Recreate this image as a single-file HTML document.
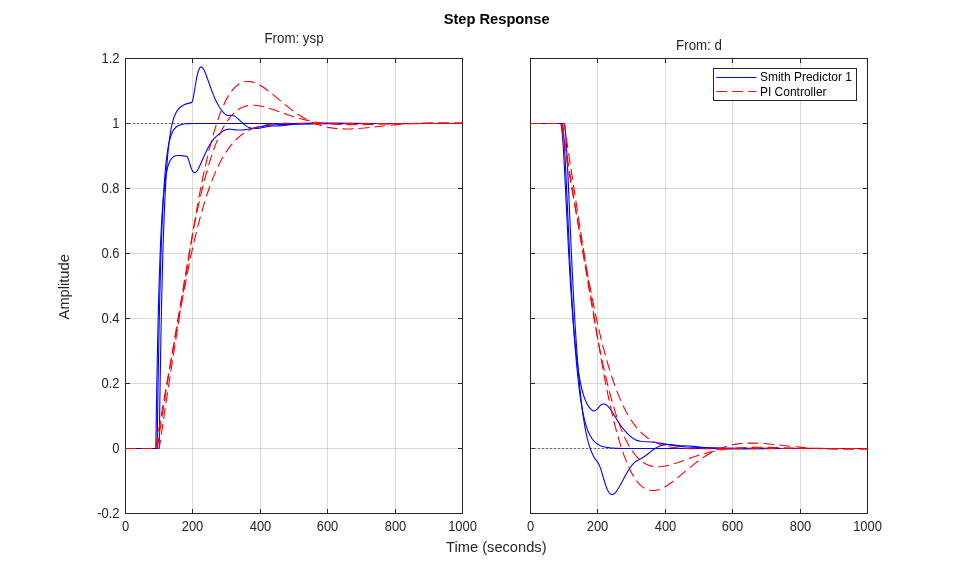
<!DOCTYPE html>
<html><head><meta charset="utf-8"><title>Step Response</title>
<style>
html,body{margin:0;padding:0;background:#fff;}
body{width:959px;height:577px;overflow:hidden;}
svg{display:block;will-change:transform;font-family:"Liberation Sans",sans-serif;}
text{fill:#262626;}
.t{font-size:13.33px;}
.l{font-size:14.67px;}
.lg{font-size:12px;fill:#000;}
.c path{fill:none;stroke-width:1.1;stroke-linejoin:round;}
</style></head><body>
<svg width="959" height="577" viewBox="0 0 959 577">
<rect width="959" height="577" fill="#fff"/>
<defs>
<clipPath id="cl"><rect x="125.0" y="58.0" width="338.0" height="456.0"/></clipPath>
<clipPath id="cr"><rect x="530.0" y="58.0" width="338.0" height="456.0"/></clipPath>
</defs>
<path d="M192.5 59.0V513.0M260.5 59.0V513.0M327.5 59.0V513.0M395.5 59.0V513.0" stroke="#262626" stroke-opacity="0.17" fill="none" shape-rendering="crispEdges"/>
<path d="M126.0 123.5H462.0M126.0 188.5H462.0M126.0 253.5H462.0M126.0 318.5H462.0M126.0 383.5H462.0M126.0 448.5H462.0" stroke="#262626" stroke-opacity="0.17" fill="none" shape-rendering="crispEdges"/>
<path d="M597.5 59.0V513.0M665.5 59.0V513.0M732.5 59.0V513.0M800.5 59.0V513.0" stroke="#262626" stroke-opacity="0.17" fill="none" shape-rendering="crispEdges"/>
<path d="M531.0 123.5H867.0M531.0 188.5H867.0M531.0 253.5H867.0M531.0 318.5H867.0M531.0 383.5H867.0M531.0 448.5H867.0" stroke="#262626" stroke-opacity="0.17" fill="none" shape-rendering="crispEdges"/>
<path d="M125.5 513.5v-4.5M125.5 58.5v4.5M192.5 513.5v-4.5M192.5 58.5v4.5M260.5 513.5v-4.5M260.5 58.5v4.5M327.5 513.5v-4.5M327.5 58.5v4.5M395.5 513.5v-4.5M395.5 58.5v4.5M462.5 513.5v-4.5M462.5 58.5v4.5M125.5 58.5h4.5M462.5 58.5h-4.5M125.5 123.5h4.5M462.5 123.5h-4.5M125.5 188.5h4.5M462.5 188.5h-4.5M125.5 253.5h4.5M462.5 253.5h-4.5M125.5 318.5h4.5M462.5 318.5h-4.5M125.5 383.5h4.5M462.5 383.5h-4.5M125.5 448.5h4.5M462.5 448.5h-4.5M125.5 513.5h4.5M462.5 513.5h-4.5" stroke="#262626" fill="none" shape-rendering="crispEdges"/>
<rect x="125.5" y="58.5" width="337.0" height="455.0" stroke="#262626" fill="none" shape-rendering="crispEdges"/>
<path d="M530.5 513.5v-4.5M530.5 58.5v4.5M597.5 513.5v-4.5M597.5 58.5v4.5M665.5 513.5v-4.5M665.5 58.5v4.5M732.5 513.5v-4.5M732.5 58.5v4.5M800.5 513.5v-4.5M800.5 58.5v4.5M867.5 513.5v-4.5M867.5 58.5v4.5M530.5 58.5h4.5M867.5 58.5h-4.5M530.5 123.5h4.5M867.5 123.5h-4.5M530.5 188.5h4.5M867.5 188.5h-4.5M530.5 253.5h4.5M867.5 253.5h-4.5M530.5 318.5h4.5M867.5 318.5h-4.5M530.5 383.5h4.5M867.5 383.5h-4.5M530.5 448.5h4.5M867.5 448.5h-4.5M530.5 513.5h4.5M867.5 513.5h-4.5" stroke="#262626" fill="none" shape-rendering="crispEdges"/>
<rect x="530.5" y="58.5" width="337.0" height="455.0" stroke="#262626" fill="none" shape-rendering="crispEdges"/>
<path d="M126.0 123.49999999999999H462.0" stroke="#6a6a6a" stroke-dasharray="2 2" stroke-dashoffset="1" fill="none" shape-rendering="crispEdges"/>
<path d="M531.0 448.5H867.0" stroke="#6a6a6a" stroke-dasharray="2 2" stroke-dashoffset="1" fill="none" shape-rendering="crispEdges"/>
<g class="c" clip-path="url(#cl)">
<path d="M125.50 448.50 L157.14 448.50 L157.78 402.63 L158.44 362.28 L159.15 325.32 L159.89 292.72 L160.68 263.69 L161.53 238.25 L162.44 215.94 L163.41 196.77 L164.44 180.89 L165.55 167.55 L166.14 161.79 L166.77 156.51 L167.42 151.74 L168.11 147.46 L168.84 143.66 L169.61 140.27 L170.44 137.27 L171.32 134.68 L172.26 132.43 L173.27 130.52 L174.37 128.90 L175.58 127.54 L176.84 126.49 L178.26 125.63 L179.84 124.96 L181.66 124.44 L183.72 124.07 L186.18 123.81 L189.21 123.65 L193.19 123.55 L208.15 123.50 L462.50 123.50" stroke="#0000ff"/>
<path d="M125.50 448.50 L155.83 448.50 L156.42 408.41 L157.04 371.82 L157.70 338.81 L158.39 309.34 L159.13 282.79 L159.91 259.73 L160.73 239.56 L161.63 221.91 L162.55 207.30 L163.56 194.80 L164.66 184.42 L165.25 179.92 L165.86 175.97 L166.50 172.41 L167.17 169.27 L167.89 166.47 L168.65 164.08 L169.46 162.02 L170.32 160.30 L171.26 158.85 L172.28 157.70 L173.34 156.84 L174.52 156.20 L175.83 155.77 L177.31 155.54 L179.08 155.49 L181.26 155.62 L186.28 156.22 L186.87 156.41 L187.17 156.67 L187.46 157.06 L188.05 158.35 L188.65 160.13 L190.74 166.92 L191.47 168.86 L192.18 170.38 L192.95 171.59 L193.34 172.02 L193.74 172.34 L194.15 172.53 L194.55 172.60 L194.97 172.56 L195.39 172.40 L196.10 171.89 L196.84 171.08 L197.63 169.94 L198.48 168.49 L200.15 165.08 L204.68 154.72 L207.09 149.64 L208.44 147.07 L209.78 144.73 L211.11 142.64 L212.48 140.72 L214.35 138.44 L216.29 136.45 L217.91 135.04 L221.90 131.91 L223.52 130.81 L224.97 130.04 L226.41 129.51 L227.91 129.22 L229.23 129.14 L230.71 129.20 L235.97 129.83 L238.29 130.02 L240.53 130.04 L242.83 129.91 L245 129.66 L247.46 129.26 L262.25 126.36 L267.01 125.55 L269.77 125.20 L272.60 124.94 L275.65 124.76 L279.26 124.64 L296.95 124.32 L316.21 123.85 L329.81 123.69 L375.84 123.54 L462.50 123.50" stroke="#0000ff"/>
<path d="M125.50 448.50 L159.20 448.50 L160.06 386.86 L160.97 333.78 L161.96 287.33 L163.02 248.26 L164.19 215.17 L164.81 200.76 L165.47 187.64 L166.16 175.83 L166.90 165.06 L167.68 155.57 L168.50 147.13 L169.12 141.72 L169.76 136.89 L170.46 132.39 L171.18 128.34 L171.96 124.66 L172.76 121.43 L173.64 118.49 L174.57 115.91 L175.85 113.07 L176.54 111.81 L177.26 110.66 L178.04 109.59 L178.85 108.63 L179.71 107.75 L180.62 106.95 L182.32 105.76 L184.26 104.73 L185.71 104.13 L187.31 103.60 L188.94 103.15 L191.25 102.62 L191.72 102.29 L192.12 101.71 L192.45 100.97 L192.77 99.97 L193.39 97.21 L196.03 81.27 L196.71 77.66 L197.35 74.68 L198.04 72.01 L198.73 69.93 L199.44 68.40 L199.79 67.85 L200.15 67.44 L200.58 67.12 L201.04 66.98 L201.49 67.04 L201.97 67.28 L202.45 67.70 L202.96 68.32 L203.50 69.15 L204.05 70.16 L204.98 72.15 L206.04 74.77 L211.82 90.86 L213.49 95.13 L215.11 98.91 L216.98 102.79 L218.88 106.22 L220.84 109.23 L222.88 111.87 L224.06 113.19 L225.07 114.16 L225.94 114.82 L226.79 115.25 L227.48 115.44 L228.22 115.52 L230.98 115.37 L232.23 115.44 L233.54 115.76 L234.86 116.37 L236 117.12 L237.25 118.11 L242.64 123.19 L244.04 124.39 L245.35 125.39 L246.89 126.37 L248.40 127.16 L249.95 127.76 L251.57 128.20 L253 128.44 L254.52 128.56 L256.15 128.57 L257.89 128.47 L260.62 128.07 L266.37 126.68 L267.88 126.39 L269.38 126.19 L271.93 126.01 L278.45 125.91 L282.12 125.71 L285.93 125.31 L298.28 123.74 L301.84 123.44 L305.42 123.29 L331.22 123.15 L352.30 123.42 L378.32 123.53 L462.50 123.50" stroke="#0000ff"/>
<path d="M125.50 448.50 L157.14 448.50 L162.62 412.64 L168.94 373.10 L176.39 328.08 L185.50 274.32 L189.85 249.07 L192.85 232.71 L196.25 215.59 L199.72 199.65 L201.75 191.03 L203.77 182.89 L205.82 175.10 L207.88 167.78 L209.95 160.87 L212.02 154.44 L214.11 148.42 L216.20 142.87 L218.26 137.86 L220.33 133.26 L222.42 129.07 L224.56 125.22 L226.75 121.72 L228.99 118.57 L231.28 115.77 L233.63 113.32 L235.93 111.27 L238.31 109.53 L240.75 108.08 L243.26 106.94 L245.86 106.09 L248.56 105.53 L251.37 105.25 L254.34 105.25 L257.15 105.48 L260.13 105.93 L263.33 106.62 L266.84 107.56 L273.17 109.57 L286.23 114.20 L292.18 116.21 L298.40 118.11 L304.33 119.70 L310.36 121.07 L316.44 122.19 L322.70 123.08 L329.20 123.77 L334.98 124.19 L341.13 124.48 L347.79 124.64 L355.18 124.68 L366.84 124.55 L397.32 123.89 L415.02 123.62 L435.86 123.46 L462.50 123.43" stroke="#ff0000" stroke-dasharray="10.9 5.1" stroke-dashoffset="0.4"/>
<path d="M125.50 448.50 L155.83 448.50 L158.27 433.25 L160.87 417.58 L166.68 383.95 L173.49 346.37 L181.78 302.11 L187.09 274.34 L190.41 258.09 L192.36 249.13 L194.35 240.45 L196.37 232.07 L198.41 224.03 L200.58 215.92 L202.79 208.15 L205.02 200.77 L207.26 193.79 L209.51 187.22 L211.77 181.08 L214.05 175.35 L216.32 170.06 L218.61 165.17 L220.97 160.56 L223.38 156.27 L225.86 152.28 L228.40 148.57 L231 145.19 L233.66 142.09 L236.41 139.27 L238.36 137.47 L240.35 135.80 L242.39 134.26 L244.48 132.84 L246.63 131.53 L248.86 130.33 L251.15 129.24 L253.53 128.25 L255.97 127.37 L258.51 126.58 L261.16 125.89 L263.94 125.29 L266.84 124.77 L269.90 124.33 L273.16 123.97 L276.63 123.69 L280.42 123.47 L284.55 123.32 L294.39 123.19 L330.14 123.50 L348.68 123.59 L462.50 123.50" stroke="#ff0000" stroke-dasharray="10.9 5.1" stroke-dashoffset="0.4"/>
<path d="M125.50 448.50 L159.20 448.50 L165.49 406.07 L172.87 358 L181.73 301.75 L192.92 231.96 L195.43 216.87 L197.97 202.51 L200.55 188.89 L203.14 176.09 L205.08 167.11 L207.04 158.55 L208.99 150.48 L210.96 142.83 L212.93 135.67 L214.92 128.93 L216.91 122.68 L218.90 116.90 L220.87 111.65 L222.86 106.83 L224.83 102.51 L226.82 98.62 L228.82 95.17 L230.88 92.10 L232.97 89.43 L235.11 87.14 L236.29 86.07 L237.47 85.12 L238.68 84.26 L239.89 83.53 L241.12 82.91 L242.39 82.39 L243.65 82 L244.95 81.70 L246.26 81.52 L247.60 81.45 L248.94 81.49 L250.32 81.64 L251.72 81.90 L253.16 82.27 L254.62 82.75 L256.14 83.34 L258.50 84.45 L260.99 85.84 L263.64 87.51 L266.48 89.51 L269.16 91.52 L272.16 93.90 L284.82 104.40 L290.75 109.11 L294 111.55 L297.10 113.74 L300.12 115.74 L303.08 117.57 L306.54 119.53 L309.96 121.27 L313.38 122.82 L316.81 124.18 L320.29 125.35 L323.81 126.36 L327.40 127.19 L331.09 127.86 L335.79 128.47 L340.73 128.83 L345.95 128.96 L351.58 128.85 L357.49 128.53 L364.26 127.98 L387.38 125.56 L396.70 124.67 L404.70 124.04 L412.57 123.55 L423.19 123.10 L434.50 122.85 L447.01 122.79 L462.50 122.92" stroke="#ff0000" stroke-dasharray="10.9 5.1" stroke-dashoffset="0.4"/>
</g>
<g class="c" clip-path="url(#cr)">
<path d="M530.50 123.50 L562.16 123.50 L562.28 123.59 L562.40 123.83 L562.63 124.74 L563.14 128.41 L563.68 134.48 L564.27 143.12 L564.91 154.29 L566.09 177.97 L569.88 259.67 L571.18 284.96 L572.42 307.05 L573.65 326.57 L574.88 343.87 L576.15 359.44 L577.44 373.29 L579.08 387.97 L579.92 394.47 L580.80 400.53 L581.71 406.16 L582.63 411.24 L583.59 415.90 L584.61 420.19 L585.65 424.06 L586.75 427.57 L587.89 430.72 L589.10 433.55 L590.38 436.06 L591.73 438.25 L593.18 440.19 L594.73 441.87 L595.68 442.72 L596.67 443.50 L597.70 444.20 L598.79 444.83 L599.96 445.41 L601.17 445.91 L603.83 446.75 L606.83 447.38 L610.34 447.83 L614.53 448.14 L619.82 448.34 L628.57 448.46 L643.82 448.50 L867.50 448.50" stroke="#0000ff"/>
<path d="M530.50 123.50 L560.85 123.50 L560.96 123.58 L561.08 123.81 L561.32 124.67 L561.81 127.98 L562.35 133.64 L562.92 141.47 L563.56 151.87 L564.71 173.32 L568.38 247.10 L569.61 269.53 L570.79 289.14 L571.92 306.05 L573.06 321.37 L574.23 335.07 L575.42 347.38 L576.94 360.61 L577.71 366.44 L578.52 371.93 L579.35 376.96 L580.21 381.62 L581.10 385.91 L582.01 389.76 L582.95 393.25 L583.95 396.44 L584.98 399.27 L586.07 401.85 L587.22 404.12 L588.43 406.11 L589.71 407.83 L591.08 409.31 L592.15 410.25 L593 410.77 L593.79 410.98 L594.58 410.88 L595.34 410.53 L596.16 409.90 L597.06 409.02 L599.92 405.91 L600.90 405.06 L601.81 404.47 L602.87 404.06 L603.93 403.96 L605.01 404.19 L606.11 404.74 L607 405.40 L607.94 406.30 L608.92 407.40 L609.98 408.76 L612.12 411.91 L617.63 420.82 L620.46 425.09 L622.01 427.23 L623.53 429.17 L625.15 431.08 L626.90 432.99 L628.80 434.91 L630.56 436.49 L632.21 437.79 L633.82 438.86 L635.44 439.71 L637.11 440.38 L638.88 440.88 L640.82 441.23 L643.53 441.50 L650.99 441.94 L655.44 442.42 L661.64 443.39 L674.05 445.61 L679.76 446.42 L685.82 446.96 L693.36 447.30 L724.92 448.08 L742.14 448.30 L786.45 448.46 L867.50 448.50" stroke="#0000ff"/>
<path d="M530.50 123.50 L564.22 123.50 L564.42 123.75 L564.64 124.53 L564.89 126.01 L565.14 128.06 L565.68 134.11 L566.27 142.83 L566.93 154.52 L568.13 179.24 L570.92 242.39 L572.34 272.85 L573.86 302.68 L575.32 328.32 L576.85 351.69 L578.44 372.31 L580.07 390.17 L580.92 398.17 L581.79 405.69 L582.65 412.34 L583.53 418.45 L584.44 424.14 L585.36 429.32 L586.32 434.09 L587.34 438.52 L588.40 442.61 L589.49 446.29 L590.38 448.93 L591.31 451.37 L592.27 453.61 L593.27 455.66 L594.21 457.37 L595.20 458.97 L598.22 463.12 L598.86 464.25 L599.48 465.58 L600.28 467.59 L601.14 470.13 L604.64 481.98 L606.29 486.92 L607.22 489.22 L608.11 491.06 L609 492.51 L609.90 493.56 L610.60 494.12 L611.31 494.46 L612.04 494.57 L612.78 494.46 L613.55 494.12 L614.35 493.57 L615.17 492.79 L616.05 491.78 L617.45 489.81 L619.05 487.20 L625.50 475.34 L627.13 472.48 L628.67 469.96 L630.30 467.47 L631.75 465.47 L633.08 463.88 L634.40 462.57 L635.59 461.59 L636.91 460.71 L641.90 458.02 L644.44 456.44 L646.82 454.72 L652.63 450.19 L654.33 448.99 L655.93 447.97 L657.97 446.86 L659.98 445.99 L662.01 445.32 L664.12 444.85 L665.55 444.65 L667.02 444.54 L668.52 444.52 L670.12 444.58 L679.32 445.52 L688.87 446.04 L693.12 446.36 L706.04 447.79 L710.02 448.16 L714.87 448.46 L720.80 448.62 L741.31 448.83 L764.88 448.59 L788.54 448.48 L867.50 448.50" stroke="#0000ff"/>
<path d="M530.50 123.50 L562.14 123.50 L567.62 159.36 L573.94 198.90 L581.39 243.92 L590.50 297.68 L594.85 322.93 L597.85 339.29 L601.25 356.41 L604.72 372.35 L606.75 380.97 L608.77 389.11 L610.82 396.90 L612.88 404.22 L614.95 411.13 L617.02 417.56 L619.11 423.58 L621.20 429.13 L623.26 434.14 L625.33 438.74 L627.42 442.93 L629.56 446.78 L631.75 450.28 L633.99 453.43 L636.28 456.23 L638.63 458.68 L640.93 460.73 L643.31 462.47 L645.75 463.92 L648.26 465.06 L650.86 465.91 L653.56 466.47 L656.37 466.75 L659.34 466.75 L662.15 466.52 L665.13 466.07 L668.33 465.38 L671.84 464.44 L678.17 462.43 L691.23 457.80 L697.18 455.79 L703.40 453.89 L709.33 452.30 L715.36 450.93 L721.44 449.81 L727.70 448.92 L734.20 448.23 L739.98 447.81 L746.13 447.52 L752.79 447.36 L760.18 447.32 L771.84 447.45 L802.32 448.11 L820.02 448.38 L840.86 448.54 L867.50 448.57" stroke="#ff0000" stroke-dasharray="10.9 5.1" stroke-dashoffset="0.4"/>
<path d="M530.50 123.50 L560.83 123.50 L563.27 138.75 L565.87 154.42 L571.68 188.05 L578.49 225.63 L586.78 269.89 L592.09 297.66 L595.41 313.91 L597.36 322.87 L599.35 331.55 L601.37 339.93 L603.41 347.97 L605.58 356.08 L607.79 363.85 L610.02 371.23 L612.26 378.21 L614.51 384.78 L616.77 390.92 L619.05 396.65 L621.32 401.94 L623.61 406.83 L625.97 411.44 L628.38 415.73 L630.86 419.72 L633.40 423.43 L636 426.81 L638.66 429.91 L641.41 432.73 L643.36 434.53 L645.35 436.20 L647.39 437.74 L649.48 439.16 L651.63 440.47 L653.86 441.67 L656.15 442.76 L658.53 443.75 L660.97 444.63 L663.51 445.42 L666.16 446.11 L668.94 446.71 L671.84 447.23 L674.90 447.67 L678.16 448.03 L681.63 448.31 L685.42 448.53 L689.55 448.68 L699.39 448.81 L735.14 448.50 L753.68 448.41 L867.50 448.50" stroke="#ff0000" stroke-dasharray="10.9 5.1" stroke-dashoffset="0.4"/>
<path d="M530.50 123.50 L564.20 123.50 L570.49 165.93 L577.87 214 L586.73 270.25 L597.92 340.04 L600.43 355.13 L602.97 369.49 L605.55 383.11 L608.14 395.91 L610.08 404.89 L612.04 413.45 L613.99 421.52 L615.96 429.17 L617.93 436.33 L619.92 443.07 L621.91 449.32 L623.90 455.10 L625.87 460.35 L627.86 465.17 L629.83 469.49 L631.82 473.38 L633.82 476.83 L635.88 479.90 L637.97 482.57 L640.11 484.86 L641.29 485.93 L642.47 486.88 L643.68 487.74 L644.89 488.47 L646.12 489.09 L647.39 489.61 L648.65 490 L649.95 490.30 L651.26 490.48 L652.60 490.55 L653.94 490.51 L655.32 490.36 L656.72 490.10 L658.16 489.73 L659.62 489.25 L661.14 488.66 L663.50 487.55 L665.99 486.16 L668.64 484.49 L671.48 482.49 L674.16 480.48 L677.16 478.10 L689.82 467.60 L695.75 462.89 L699 460.45 L702.10 458.26 L705.12 456.26 L708.08 454.43 L711.54 452.47 L714.96 450.73 L718.38 449.18 L721.81 447.82 L725.29 446.65 L728.81 445.64 L732.40 444.81 L736.09 444.14 L740.79 443.53 L745.73 443.17 L750.95 443.04 L756.58 443.15 L762.49 443.47 L769.26 444.02 L792.38 446.44 L801.70 447.33 L809.70 447.96 L817.57 448.45 L828.19 448.90 L839.50 449.15 L852.01 449.21 L867.50 449.08" stroke="#ff0000" stroke-dasharray="10.9 5.1" stroke-dashoffset="0.4"/>
</g>
<text class="t" transform="translate(125.5 530.9) scale(0.97 1.08)" text-anchor="middle">0</text>
<text class="t" transform="translate(192.5 530.9) scale(0.97 1.08)" text-anchor="middle">200</text>
<text class="t" transform="translate(260.5 530.9) scale(0.97 1.08)" text-anchor="middle">400</text>
<text class="t" transform="translate(327.5 530.9) scale(0.97 1.08)" text-anchor="middle">600</text>
<text class="t" transform="translate(395.5 530.9) scale(0.97 1.08)" text-anchor="middle">800</text>
<text class="t" transform="translate(462.5 530.9) scale(0.97 1.08)" text-anchor="middle">1000</text>
<text class="t" transform="translate(530.5 530.9) scale(0.97 1.08)" text-anchor="middle">0</text>
<text class="t" transform="translate(597.5 530.9) scale(0.97 1.08)" text-anchor="middle">200</text>
<text class="t" transform="translate(665.5 530.9) scale(0.97 1.08)" text-anchor="middle">400</text>
<text class="t" transform="translate(732.5 530.9) scale(0.97 1.08)" text-anchor="middle">600</text>
<text class="t" transform="translate(800.5 530.9) scale(0.97 1.08)" text-anchor="middle">800</text>
<text class="t" transform="translate(867.5 530.9) scale(0.97 1.08)" text-anchor="middle">1000</text>
<text class="t" transform="translate(119.5 63.4) scale(0.97 1.08)" text-anchor="end">1.2</text>
<text class="t" transform="translate(119.5 128.4) scale(0.97 1.08)" text-anchor="end">1</text>
<text class="t" transform="translate(119.5 193.4) scale(0.97 1.08)" text-anchor="end">0.8</text>
<text class="t" transform="translate(119.5 258.4) scale(0.97 1.08)" text-anchor="end">0.6</text>
<text class="t" transform="translate(119.5 323.4) scale(0.97 1.08)" text-anchor="end">0.4</text>
<text class="t" transform="translate(119.5 388.4) scale(0.97 1.08)" text-anchor="end">0.2</text>
<text class="t" transform="translate(119.5 453.4) scale(0.97 1.08)" text-anchor="end">0</text>
<text class="t" transform="translate(119.5 518.4) scale(0.97 1.08)" text-anchor="end">-0.2</text>
<text class="l" transform="translate(496.6 23.9) scale(1.0 1.04)" text-anchor="middle" font-weight="bold" style="fill:#000">Step Response</text>
<text class="t" transform="translate(294 42.9) scale(1.0 1.04)" text-anchor="middle">From: ysp</text>
<text class="t" transform="translate(699 49.8) scale(1.0 1.04)" text-anchor="middle">From: d</text>
<text class="l" transform="translate(496.3 551.7) scale(1.0 1.04)" text-anchor="middle">Time (seconds)</text>
<text class="l" transform="translate(69 286.8) rotate(-90) scale(1.0 1.04)" text-anchor="middle">Amplitude</text>
<rect x="713.5" y="68.5" width="143" height="32" fill="#fff" stroke="#262626" shape-rendering="crispEdges"/>
<path d="M716.5 77.5H756.5" stroke="#0000ff" stroke-width="1.1" fill="none"/>
<path d="M716.5 91.5H756.5" stroke="#ff0000" stroke-width="1.1" stroke-dasharray="10.9 5.1" stroke-dashoffset="0.4" fill="none"/>
<text class="lg" transform="translate(759.9 80.8) scale(1.0 1.05)" text-anchor="start">Smith Predictor 1</text>
<text class="lg" transform="translate(759.9 96.1) scale(1.0 1.05)" text-anchor="start">PI Controller</text>
</svg></body></html>
